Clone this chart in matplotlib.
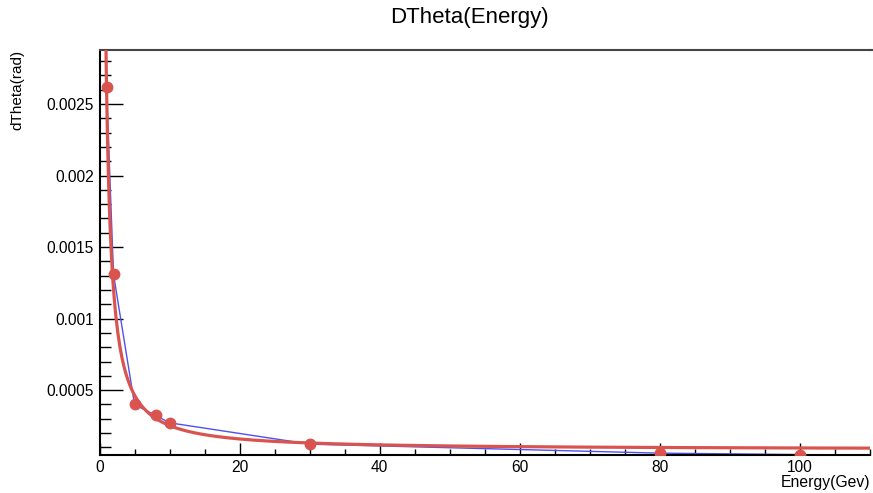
import numpy as np
import matplotlib
matplotlib.use('Agg')
import matplotlib.pyplot as plt
from matplotlib.ticker import MultipleLocator, FuncFormatter
from matplotlib.lines import Line2D

plt.rcParams['font.family'] = ['Liberation Sans', 'DejaVu Sans']

# measured points
energy = [1, 2, 5, 8, 10, 30, 80, 100]
dtheta = [0.00262, 0.00131, 0.00040, 0.000324, 0.000272, 0.000123, 0.000060, 0.000050]

# fit parameters (a * E^-p + c)
fit_a = 0.00254
fit_p = 1.18
fit_c = 0.000085

red = '#d9544f'
blue = '#5050f0'

fig = plt.figure(figsize=(8.73, 4.93), dpi=100)
ax = fig.add_axes([99.5 / 873, 1 - 455 / 493, (870 - 99.5) / 873, (455 - 50) / 493])

ax.plot(energy, dtheta, color=blue, lw=1.0, zorder=2)
e_fit = np.linspace(0.3, 110, 800)
ax.plot(e_fit, fit_a * e_fit ** (-fit_p) + fit_c, color=red, lw=2.3, zorder=3)
ax.plot(energy, dtheta, 'o', color=red, ms=7.5, mec=red, zorder=4)

ax.set_xlim(0, 110)
ax.set_ylim(0.000047, 0.002877)

ax.xaxis.set_major_locator(MultipleLocator(20))
ax.xaxis.set_minor_locator(MultipleLocator(5))
ax.yaxis.set_major_locator(MultipleLocator(0.0005))
ax.yaxis.set_minor_locator(MultipleLocator(0.0001))
ax.yaxis.set_major_formatter(FuncFormatter(lambda v, p: '' if v <= 0 else f'{v:g}'))

ax.tick_params(axis='x', which='major', direction='in', length=8.6, width=1, labelsize=11.2, pad=3.5)
ax.tick_params(axis='x', which='minor', direction='in', length=4.3, width=1)
ax.tick_params(axis='y', which='major', direction='in', length=16.5, width=1, labelsize=11.2, pad=4)
ax.tick_params(axis='y', which='minor', direction='in', length=8, width=1)

ax.spines['right'].set_visible(False)
ax.spines['top'].set_color('#444444')
ax.spines['top'].set_linewidth(1.5)
ax.spines['left'].set_linewidth(1.5)
ax.spines['bottom'].set_linewidth(1.5)
for s in ax.spines.values():
    s.set_clip_on(False)

# top frame line runs to the edge of the canvas
fig.add_artist(Line2D([870 / 873, 1], [1 - 50 / 493, 1 - 50 / 493], color='#444444', lw=1.5))

fig.text(469 / 873, 1 - 17 / 493, 'DTheta(Energy)', ha='center', va='center', fontsize=16)
fig.text(870 / 873, 1 - 482 / 493, 'Energy(Gev)', ha='right', va='center', fontsize=11.3)
fig.text(17 / 873, 1 - 50 / 493, 'dTheta(rad)', ha='center', va='top', rotation=90, fontsize=11)

fig.savefig('out.png', dpi=100)
